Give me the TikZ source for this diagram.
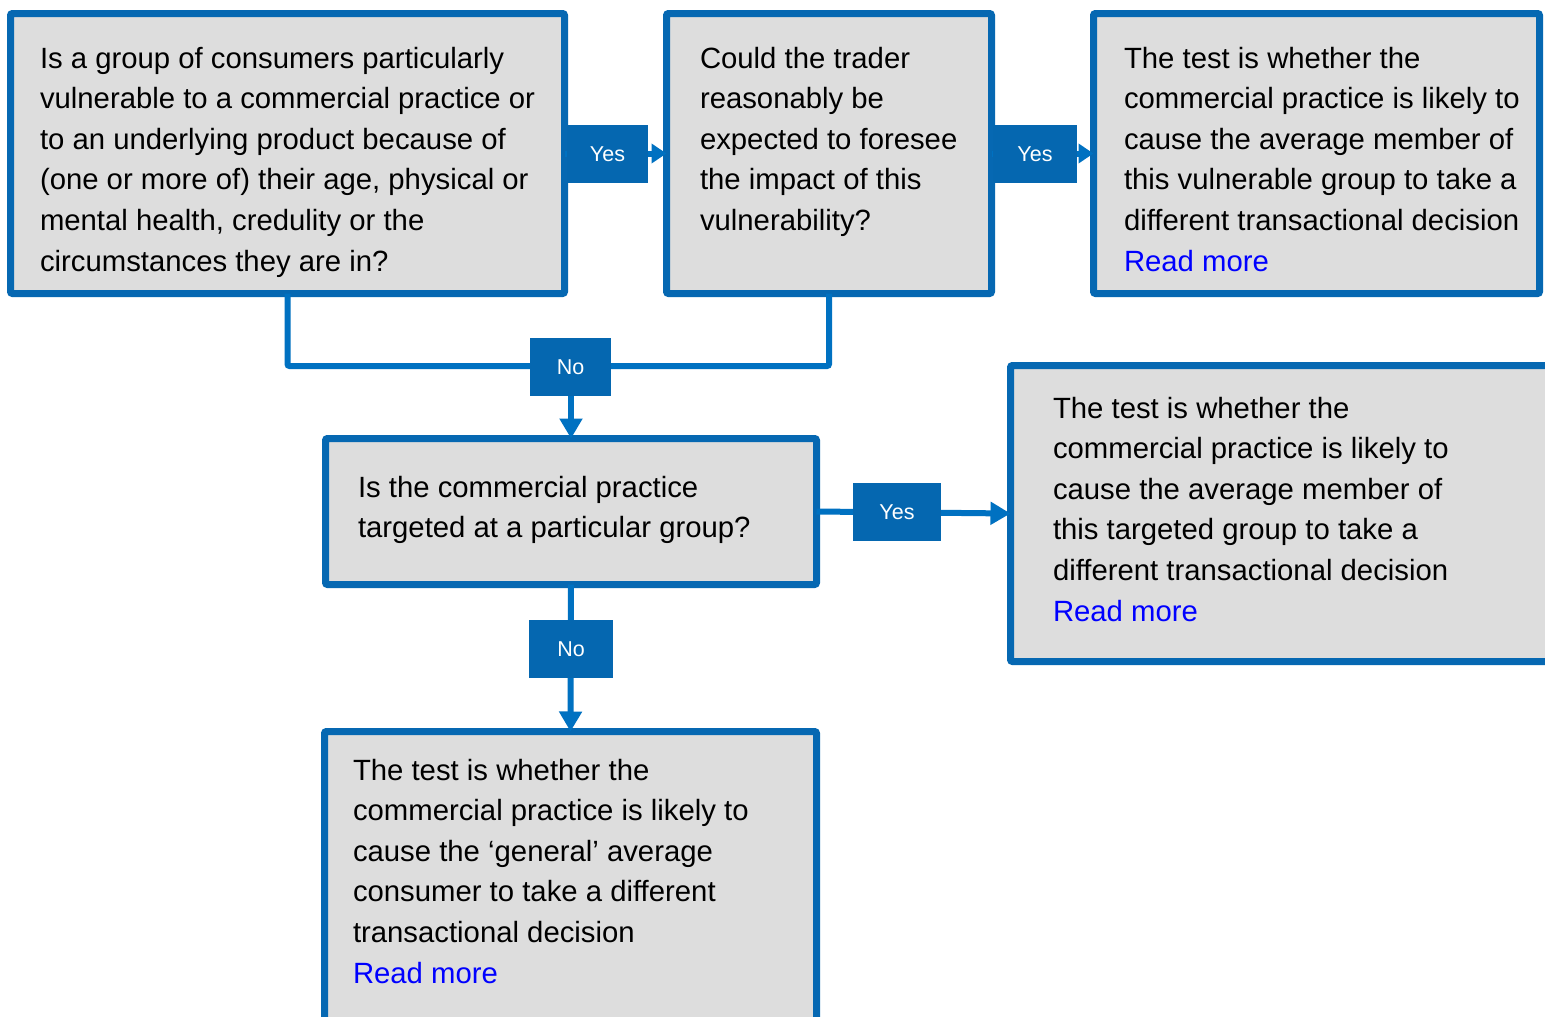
\documentclass[tikz,border=0pt]{standalone}
\usepackage{fontspec}
\setmainfont{Liberation Sans}
\usetikzlibrary{arrows.meta}
\definecolor{bord}{RGB}{6,104,178}
\definecolor{conncol}{RGB}{0,113,193}
\definecolor{labfill}{RGB}{5,103,176}
\definecolor{boxfill}{RGB}{221,221,221}
\definecolor{linkblue}{RGB}{0,0,255}
\tikzset{
  qbox/.style={draw=bord, fill=boxfill, line width=7, rounded corners=2, inner sep=0, outer sep=0},
  txt/.style={anchor=base west, inner sep=0, outer sep=0, font=\fontsize{29.3}{40.6}\selectfont, text=black},
  lab/.style={fill=labfill, text=white, inner sep=0, minimum height=58, font=\fontsize{21.5}{24}\selectfont},
  conn/.style={draw=conncol, line width=6},
  tip/.style={-{Triangle[length=20,width=22]}},
  smalltip/.style={-{Triangle[length=15,width=19]}},
}
\begin{document}
\begin{tikzpicture}[x=1pt,y=-1pt]
\clip (0,0) rectangle (1545,1017);
\fill[white] (0,0) rectangle (1545,1017);
% boxes
\node[qbox, minimum width=554, minimum height=280] (A) at (287.5,153.5) {};
\node[qbox, minimum width=325, minimum height=280] (B) at (829,153.5) {};
\node[qbox, minimum width=446, minimum height=280] (C) at (1316.5,153.5) {};
\node[qbox, minimum width=491, minimum height=146] (D) at (571,511.5) {};
\node[qbox, minimum width=546, minimum height=296] (E) at (1283.5,513.5) {};
\node[qbox, minimum width=492, minimum height=300] (F) at (570.5,881.5) {};
% connectors
\draw[conn, smalltip] (A) -- (B);
\draw[conn, smalltip] (B) -- (C);
\coordinate (j) at (571,366);
\draw[conn, rounded corners=2] (A.south) -- ++(0,72.5) -| (B.south);
\draw[conn, tip] (j) -- (D.north);
\draw[conn, tip] (D.east) -- (E.west);
\draw[conn, tip] (D.south) -- (F.north);
% labels
\node[lab, minimum width=81] (y1) at (607.5,154) {Yes};
\node[lab, minimum width=84] (y2) at (1035,154) {Yes};
\node[lab, minimum width=81] (n1) at (570.5,367) {No};
\node[lab, minimum width=88] (y3) at (897,512) {Yes};
\node[lab, minimum width=84] (n2) at (571,649) {No};
% texts
\node[txt] (tA) at (40,68) {\vtop{%
\hbox{Is a group of consumers particularly}
\hbox{vulnerable to a commercial practice or}
\hbox{to an underlying product because of}
\hbox{(one or more of) their age, physical or}
\hbox{mental health, credulity or the}
\hbox{circumstances they are in?}}};
\node[txt] (tB) at (700,68) {\vtop{%
\hbox{Could the trader}
\hbox{reasonably be}
\hbox{expected to foresee}
\hbox{the impact of this}
\hbox{vulnerability?}}};
\node[txt] (tC) at (1124,68) {\vtop{%
\hbox{The test is whether the}
\hbox{commercial practice is likely to}
\hbox{cause the average member of}
\hbox{this vulnerable group to take a}
\hbox{different transactional decision}
\hbox{\color{linkblue}Read more}}};
\node[txt] (tD) at (358,497) {\vtop{%
\hbox{Is the commercial practice}
\hbox{targeted at a particular group?}}};
\node[txt] (tE) at (1053,418) {\vtop{%
\hbox{The test is whether the}
\hbox{commercial practice is likely to}
\hbox{cause the average member of}
\hbox{this targeted group to take a}
\hbox{different transactional decision}
\hbox{\color{linkblue}Read more}}};
\node[txt] (tF) at (353,780) {\vtop{%
\hbox{The test is whether the}
\hbox{commercial practice is likely to}
\hbox{cause the ‘general’ average}
\hbox{consumer to take a different}
\hbox{transactional decision}
\hbox{\color{linkblue}Read more}}};
\end{tikzpicture}
\end{document}
